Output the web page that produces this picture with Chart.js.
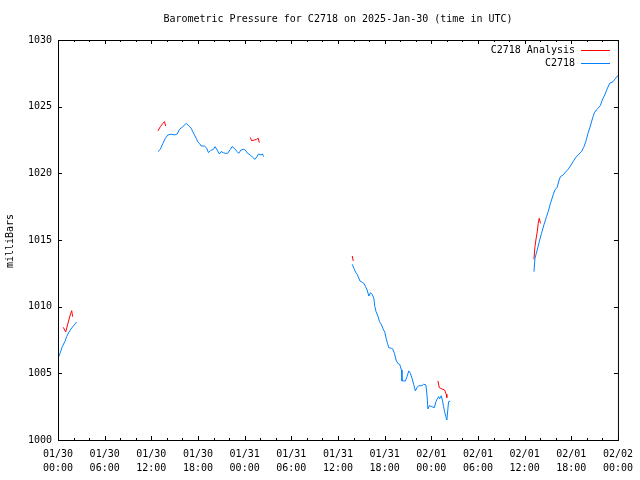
<!DOCTYPE html>
<html>
<head>
<meta charset="utf-8">
<script src="https://cdn.jsdelivr.net/npm/chart.js@4/dist/chart.umd.min.js"></script>
<style>
  body { margin: 0; background: #fff; }
  canvas { display: block; }
</style>
</head>
<body>
<canvas id="chart" width="640" height="480"></canvas>
<script>
// hours since 2025-01-30 00:00 UTC
let blueTimes1 = [0.05, 0.26, 0.55, 0.9, 1.11, 1.41, 1.76, 2.05, 2.4];
let blueVals1  = [1006.2, 1006.5, 1007.0, 1007.4, 1007.75, 1008.1, 1008.4, 1008.6, 1008.85];

let redTimes1 = [0.68, 0.99, 1.32, 1.63, 1.76, 1.88];
let redVals1  = [1008.45, 1008.1, 1008.85, 1009.5, 1009.7, 1009.25];

let blueTimes2 = [12.85, 13.16, 13.49, 13.8, 14.13, 14.57, 14.99, 15.33, 15.63, 16.05, 16.49, 16.82,
  17.13, 17.33, 17.55, 17.77, 17.97, 18.19, 18.41, 18.83, 19.13, 19.34, 19.6, 19.98, 20.2, 20.46,
  20.75, 20.97, 21.27, 21.52, 21.82, 22.16, 22.38, 22.68, 23.02, 23.23, 23.53, 23.87, 24.08, 24.38,
  24.72, 25.02, 25.33, 25.58, 25.79, 26.1, 26.3, 26.43];
let blueVals2 = [1021.63, 1021.8, 1022.25, 1022.63, 1022.88, 1022.93, 1022.88, 1022.95, 1023.3, 1023.5, 1023.75, 1023.55,
  1023.38, 1023.12, 1022.88, 1022.63, 1022.37, 1022.25, 1022.05, 1022.05, 1021.88, 1021.55, 1021.7, 1021.8, 1022.0, 1021.75,
  1021.45, 1021.63, 1021.55, 1021.5, 1021.5, 1021.8, 1022.0, 1021.88, 1021.63, 1021.5, 1021.75, 1021.8, 1021.75, 1021.5,
  1021.38, 1021.2, 1021.05, 1021.25, 1021.45, 1021.38, 1021.45, 1021.25];

let redTimes2a = [12.85, 13.16, 13.49, 13.7, 13.84];
let redVals2a  = [1023.18, 1023.5, 1023.75, 1023.88, 1023.55];

let redTimes2b = [24.72, 24.89, 25.24, 25.53, 25.75, 25.88];
let redVals2b  = [1022.7, 1022.45, 1022.5, 1022.55, 1022.63, 1022.3];

let blueTimes3 = [37.83, 38.05, 38.27, 38.47, 38.69, 38.82, 39.11, 39.33, 39.55, 39.75, 39.97, 40.19,
  40.39, 40.61, 40.74, 40.9, 41.16, 41.34, 41.6, 41.8, 42.02, 42.19, 42.37, 42.53, 42.88, 43.04,
  43.26, 43.47, 43.68, 43.94, 44.16, 44.23, 44.67, 44.88, 45.1, 45.31, 45.52, 45.73, 45.95, 46.16,
  46.37, 46.8, 47.01, 47.31, 47.44, 47.57, 47.75, 48.08, 48.39, 48.59, 48.81, 48.94, 49.06, 49.28,
  49.45, 49.58, 49.71, 49.87, 50.0, 50.22, 50.44];
let blueVals3 = [1013.18, 1012.88, 1012.58, 1012.43, 1012.13, 1011.93, 1011.83, 1011.75, 1011.5, 1011.25, 1010.8, 1011.05,
  1010.93, 1010.63, 1010.0, 1009.62, 1009.25, 1008.87, 1008.63, 1008.33, 1008.08, 1007.63, 1007.25, 1006.92, 1006.88, 1006.83,
  1006.5, 1006.0, 1005.75, 1005.67, 1005.25, 1004.43, 1004.43, 1004.75, 1005.18, 1005.0, 1004.63, 1004.18, 1003.68, 1003.92,
  1004.07, 1004.07, 1004.18, 1004.13, 1003.38, 1002.33, 1002.57, 1002.5, 1002.42, 1002.87, 1003.13, 1003.25, 1003.08, 1003.32,
  1002.93, 1002.5, 1002.12, 1001.75, 1001.5, 1002.87, 1002.92];

let redTimes3a = [37.83, 37.96];
let redVals3a  = [1013.8, 1013.43];

let redTimes3b = [48.85, 49.03, 49.36, 49.71, 49.92, 50.0];
let redVals3b  = [1004.43, 1003.92, 1003.83, 1003.75, 1003.43, 1003.18];

let blueTimes4 = [61.2, 61.33, 61.62, 61.88, 62.17, 62.48, 62.81, 63.03, 63.32, 63.67, 63.89, 64.18,
  64.44, 64.6, 64.95, 65.3, 65.59, 65.89, 66.23, 66.58, 67.0, 67.3, 67.6, 67.86, 68.15, 68.45,
  68.79, 69.01, 69.43, 69.73, 69.98, 70.29, 70.59, 70.93, 71.36, 71.7, 72.0];
let blueVals4 = [1012.62, 1013.63, 1014.25, 1014.87, 1015.5, 1016.13, 1016.75, 1017.12, 1017.75, 1018.38, 1018.75, 1018.95,
  1019.5, 1019.75, 1019.88, 1020.12, 1020.3, 1020.55, 1020.87, 1021.2, 1021.45, 1021.63, 1021.95, 1022.37, 1023.0, 1023.55,
  1024.25, 1024.58, 1024.88, 1025.07, 1025.5, 1025.87, 1026.3, 1026.75, 1026.87, 1027.13, 1027.35];

let redTimes4 = [61.2, 61.33, 61.45, 61.62, 61.75, 61.88, 62.04];
let redVals4  = [1013.55, 1014.5, 1015.0, 1015.62, 1016.25, 1016.63, 1016.25];

let xTickLabels = {
  0: ['01/30', '00:00'], 6: ['01/30', '06:00'], 12: ['01/30', '12:00'], 18: ['01/30', '18:00'],
  24: ['01/31', '00:00'], 30: ['01/31', '06:00'], 36: ['01/31', '12:00'], 42: ['01/31', '18:00'],
  48: ['02/01', '00:00'], 54: ['02/01', '06:00'], 60: ['02/01', '12:00'], 66: ['02/01', '18:00'],
  72: ['02/02', '00:00']
};

const FONT = "'DejaVu Sans Mono', monospace";
const RED = '#ff0000';
const BLUE = 'rgb(0,128,255)';

// join segments, with a null point between them so the line breaks
function Segments(list){
  let pts = [];
  list.forEach((s, i) => {
    if (i > 0) pts.push({x: s[0][0] - 0.01, y: null});
    s[0].forEach((t, j) => pts.push({x: t, y: s[1][j]}));
  });
  return pts;
}

const framePlugin = {
  id: 'frame',
  afterDraw(chart){
    const ctx = chart.ctx;
    const a = chart.chartArea;
    const xs = chart.scales.x, ys = chart.scales.y;
    ctx.save();
    ctx.strokeStyle = '#000';
    ctx.lineWidth = 1;
    ctx.strokeRect(a.left + 0.5, a.top + 0.5, a.right - a.left, a.bottom - a.top);
    ctx.beginPath();
    for (let h = 0; h <= 72; h += 2){
      const px = Math.round(xs.getPixelForValue(h)) + 0.5;
      const len = h % 6 === 0 ? 4 : 2;
      ctx.moveTo(px, a.bottom); ctx.lineTo(px, a.bottom - len);
      ctx.moveTo(px, a.top); ctx.lineTo(px, a.top + len);
    }
    for (let p = 1000; p <= 1030; p += 5){
      const py = Math.round(ys.getPixelForValue(p)) + 0.5;
      ctx.moveTo(a.left, py); ctx.lineTo(a.left + 4, py);
      ctx.moveTo(a.right, py); ctx.lineTo(a.right - 4, py);
    }
    ctx.stroke();

    // title, axis title and key
    ctx.fillStyle = '#000';
    ctx.font = '10px ' + FONT;
    ctx.textBaseline = 'middle';
    ctx.textAlign = 'center';
    ctx.fillText('Barometric Pressure for C2718 on 2025-Jan-30 (time in UTC)', (a.left + a.right) / 2, 19);

    ctx.save();
    ctx.translate(10, 241);
    ctx.rotate(-Math.PI / 2);
    ctx.fillText('milliBars', 0, 0);
    ctx.restore();

    ctx.textAlign = 'right';
    ctx.fillText('C2718 Analysis', 575, 50);
    ctx.fillText('C2718', 575, 63);
    ctx.beginPath();
    ctx.strokeStyle = RED;
    ctx.moveTo(581, 50.5); ctx.lineTo(610, 50.5);
    ctx.stroke();
    ctx.beginPath();
    ctx.strokeStyle = BLUE;
    ctx.moveTo(581, 63.5); ctx.lineTo(610, 63.5);
    ctx.stroke();
    ctx.restore();
  }
};

const ctx = document.getElementById('chart').getContext('2d');
new Chart(ctx, {
  type: 'line',
  data: {
    datasets: [
      {
        label: 'C2718',
        data: Segments([[blueTimes1, blueVals1], [blueTimes2, blueVals2], [blueTimes3, blueVals3], [blueTimes4, blueVals4]]),
        borderColor: BLUE,
        borderWidth: 1,
        pointRadius: 0,
        tension: 0,
        spanGaps: false
      },
      {
        label: 'C2718 Analysis',
        data: Segments([[redTimes1, redVals1], [redTimes2a, redVals2a], [redTimes2b, redVals2b],
          [redTimes3a, redVals3a], [redTimes3b, redVals3b], [redTimes4, redVals4]]),
        borderColor: RED,
        borderWidth: 1,
        pointRadius: 0,
        tension: 0,
        spanGaps: false
      }
    ]
  },
  options: {
    responsive: false,
    animation: false,
    layout: { padding: { top: 40, right: 20, left: 0, bottom: 0 } },
    plugins: {
      legend: { display: false },
      title: { display: false },
      tooltip: { enabled: false }
    },
    scales: {
      x: {
        type: 'linear',
        min: 0,
        max: 72,
        grid: { display: false, drawTicks: false },
        border: { display: false },
        afterFit: s => { s.height = 40; },
        ticks: {
          stepSize: 6,
          autoSkip: false,
          maxRotation: 0,
          padding: 7,
          color: '#000',
          font: { family: FONT, size: 10, lineHeight: 1.4 },
          callback: v => xTickLabels[v] || ''
        }
      },
      y: {
        min: 1000,
        max: 1030,
        grid: { display: false, drawTicks: false },
        border: { display: false },
        afterFit: s => { s.width = 58; },
        ticks: {
          stepSize: 5,
          padding: 6,
          color: '#000',
          font: { family: FONT, size: 10 },
          callback: v => String(v)
        }
      }
    }
  },
  plugins: [framePlugin]
});
</script>
</body>
</html>
